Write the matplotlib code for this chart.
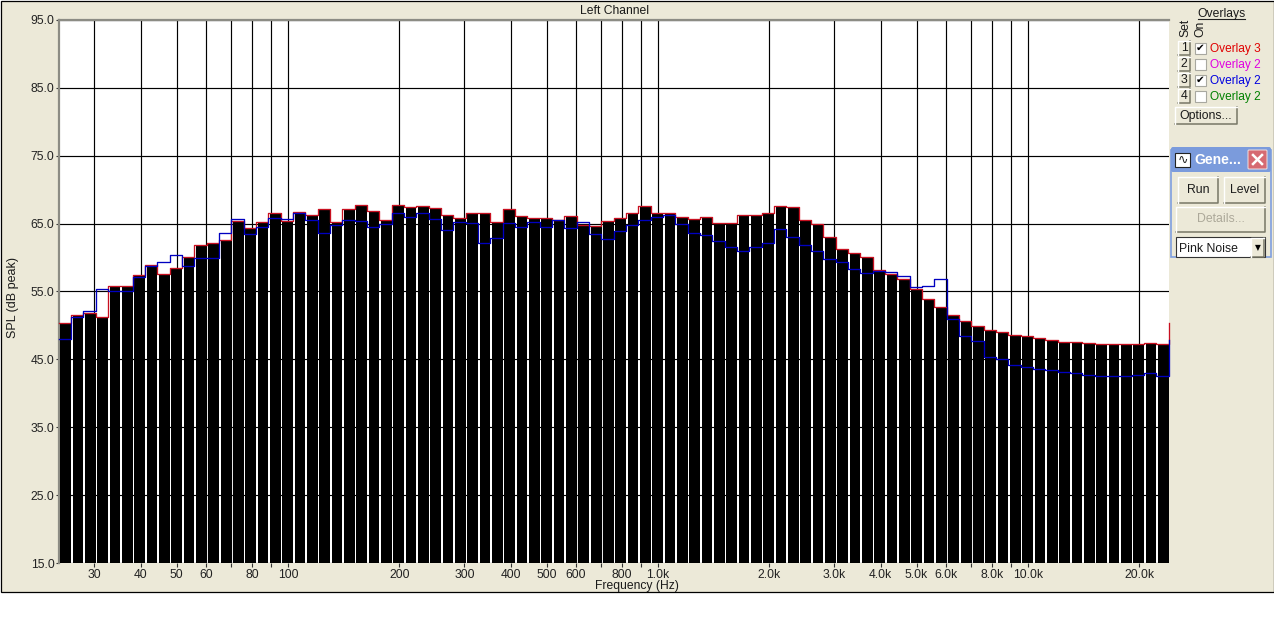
import numpy as np
import matplotlib
matplotlib.use("Agg")
import matplotlib.pyplot as plt
from matplotlib.patches import Rectangle, FancyBboxPatch

plt.rcParams['font.family'] = ['Liberation Sans', 'DejaVu Sans']

# 1/9 octave-ish bins, 90 bars from 24 Hz to 24 kHz
red_db = [50.4, 51.6, 51.9, 51.2, 55.8, 55.8, 57.5, 58.9, 57.6, 58.5,
          60.1, 61.9, 62.1, 62.6, 65.4, 64.4, 65.2, 66.5, 65.4, 66.7,
          66.3, 67.2, 65.3, 67.2, 67.7, 66.8, 65.6, 67.7, 67.5, 67.6,
          67.3, 66.3, 65.8, 66.6, 66.6, 65.2, 67.1, 66.1, 65.8, 65.8,
          65.6, 66.1, 64.8, 64.7, 65.4, 65.8, 66.6, 67.6, 66.5, 66.6,
          66.0, 65.7, 66.0, 65.1, 65.1, 66.2, 66.3, 66.5, 67.6, 67.4,
          65.5, 64.9, 63.0, 61.3, 60.6, 60.1, 58.2, 57.6, 56.9, 55.4,
          53.9, 52.7, 51.5, 50.6, 49.9, 49.4, 49.1, 48.6, 48.4, 48.2,
          47.9, 47.6, 47.5, 47.4, 47.3, 47.2, 47.2, 47.2, 47.4, 47.2]
red_end = 50.3

blue_db = [48.0, 51.2, 52.2, 55.4, 55.0, 55.0, 57.1, 58.7, 59.3, 60.4,
           58.8, 60.0, 60.0, 63.6, 65.7, 63.4, 64.5, 65.9, 65.7, 66.6,
           65.6, 63.6, 64.8, 65.6, 65.4, 64.5, 65.0, 66.5, 66.0, 66.5,
           65.7, 64.1, 65.3, 65.1, 62.1, 62.9, 65.1, 64.5, 65.3, 64.5,
           65.5, 64.4, 65.2, 63.5, 62.7, 63.9, 64.8, 65.6, 66.0, 66.3,
           64.9, 63.6, 63.3, 62.4, 61.6, 60.9, 61.5, 62.2, 64.2, 63.0,
           61.9, 61.0, 59.8, 59.3, 58.3, 57.7, 58.0, 57.9, 57.3, 55.6,
           55.8, 56.9, 50.9, 48.4, 47.7, 45.4, 45.1, 44.2, 43.9, 43.6,
           43.5, 43.1, 43.0, 42.7, 42.6, 42.6, 42.6, 42.7, 43.0, 42.6]
blue_end = 47.9

grid_freqs = [30, 40, 50, 60, 70, 80, 90, 100, 200, 300, 400, 500, 600, 700, 800, 900,
              1000, 2000, 3000, 4000, 5000, 6000, 7000, 8000, 9000, 10000, 20000]
freq_labels = ['30', '40', '50', '60', '', '80', '', '100', '200', '300', '400', '500', '600', '',
               '800', '', '1.0k', '2.0k', '3.0k', '4.0k', '5.0k', '6.0k', '', '8.0k', '', '10.0k', '20.0k']
spl_ticks = [15, 25, 35, 45, 55, 65, 75, 85, 95]
PANEL = '#ece9d8'

fig = plt.figure(figsize=(12.74, 6.37), dpi=100, facecolor='white')

# beige dialog background, pixel coordinates
ui = fig.add_axes([0, 0, 1, 1], zorder=0)
ui.set_xlim(0, 1274)
ui.set_ylim(637, 0)
ui.axis('off')
ui.add_patch(Rectangle((0.5, 0.5), 1273, 591.5, fc=PANEL, ec='black', lw=0.9))

# main plot
ax = fig.add_axes([58.6 / 1274, 1 - 563 / 637, 1110 / 1274, 543 / 637], zorder=1)
ax.set_xscale('log')
ax.set_xlim(24, 24000)
ax.set_ylim(15, 95)

edges = np.geomspace(24, 24000, len(red_db) + 1)
left = edges[:-1] * 10 ** (0.14 / 30)
ax.bar(left, np.array(red_db) - 15, width=edges[1:] - left, bottom=15, align='edge', color='black', zorder=3)
ax.step(edges, red_db + [red_end], where='post', color='#c81020', lw=0.95, zorder=4, clip_on=False)
ax.step(edges, blue_db + [blue_end], where='post', color='#0000c0', lw=0.95, zorder=5, clip_on=False)

ax.set_xticks(grid_freqs)
ax.set_xticklabels(freq_labels)
ax.xaxis.set_minor_locator(matplotlib.ticker.NullLocator())
ax.set_yticks(spl_ticks)
ax.set_yticklabels(['%.1f' % v for v in spl_ticks])
ax.grid(True, color='black', lw=0.85, zorder=1)
ax.set_axisbelow(True)
ax.tick_params(axis='x', length=3, width=0.8, labelsize=8.7, color='#333333', labelcolor='#222222', pad=1.5)
ax.tick_params(axis='y', length=2, width=0.8, labelsize=8.7, color='#333333', labelcolor='#222222', pad=1)
for name in ['right', 'bottom']:
    ax.spines[name].set_visible(False)
for name in ['left', 'top']:
    ax.spines[name].set_color('#8c8c84')
    ax.spines[name].set_linewidth(1.6)

# overlay layer for labels and the side controls
top = fig.add_axes([0, 0, 1, 1], zorder=2)
top.set_xlim(0, 1274)
top.set_ylim(637, 0)
top.axis('off')
top.patch.set_alpha(0)


def label(x, y, s, color='#1a1a1a', ha='center', size=8.7, **kw):
    top.text(x, y + 1, s, color=color, ha=ha, va='center', fontsize=size, **kw)


def button(x0, y0, x1, y1, s=None, color='#1a1a1a'):
    top.add_patch(Rectangle((x0, y0), x1 - x0, y1 - y0, fc=PANEL, ec='none'))
    top.plot([x0, x1, x1], [y1, y1, y0], color='#777766', lw=1.1)
    top.plot([x0, x0, x1], [y1, y0, y0], color='white', lw=1.0)
    if s:
        label((x0 + x1) / 2, (y0 + y1) / 2 - 1, s, color=color, size=8.8)


label(615, 9.5, 'Left Channel')
label(637, 585, 'Frequency (Hz)')
label(13, 296, 'SPL (dB peak)', rotation=90, size=9)

# overlay selector
label(1222, 12.5, 'Overlays')
top.plot([1198, 1245], [18.5, 18.5], color='#222222', lw=0.8)
label(1185, 27, 'Set', rotation=90)
label(1200, 28, 'On', rotation=90)
overlay_names = ['Overlay 3', 'Overlay 2', 'Overlay 2', 'Overlay 2']
overlay_colors = ['#e00000', '#e000e0', '#0000e0', '#008000']
overlay_checked = [True, False, True, False]
for i in range(4):
    y = 48 + 16 * i
    button(1178, y - 7, 1190, y + 7, str(i + 1))
    top.add_patch(Rectangle((1195, y - 5.5), 11, 11, fc='white', ec='#a8a8a0', lw=0.8))
    if overlay_checked[i]:
        top.text(1200.5, y, '\u2714', ha='center', va='center', fontsize=7.5, color='black', family='DejaVu Sans')
    label(1210, y, overlay_names[i], color=overlay_colors[i], ha='left', size=8.6)
button(1175, 107, 1237, 124, 'Options...')

# generator window
top.add_patch(Rectangle((1171, 150), 100, 107, fc=PANEL, ec='#7f9fe0', lw=1.2))
top.add_patch(FancyBboxPatch((1173, 149), 96, 21, boxstyle='round,pad=2', fc='#7b9bdc', ec='none'))
top.add_patch(Rectangle((1175, 153), 15, 14, fc='white', ec='#222222', lw=0.8))
label(1182.5, 159, '\u223f', color='#222222', size=9, family='DejaVu Sans')
label(1194, 159.5, 'Gene...', color='white', ha='left', size=10, fontweight='bold')
top.add_patch(FancyBboxPatch((1249, 151), 17, 17, boxstyle='round,pad=1', fc='#d66a72', ec='#f0e0e0', lw=0.7))
top.plot([1253, 1262], [155, 164], color='white', lw=1.8)
top.plot([1253, 1262], [164, 155], color='white', lw=1.8)
button(1178, 177, 1218, 203, 'Run')
button(1224, 177, 1265, 203, 'Level')
button(1176, 207, 1265, 232, 'Details...', color='#aca899')
top.add_patch(Rectangle((1176, 237), 89, 20, fc='white', ec='#333333', lw=0.8))
label(1179, 248, 'Pink Noise', ha='left', size=8.8)
button(1251, 238, 1264, 257)
top.text(1257.5, 248, '\u25bc', ha='center', va='center', fontsize=5.5, color='black', family='DejaVu Sans')

fig.savefig('out.png', dpi=100, facecolor='white')
